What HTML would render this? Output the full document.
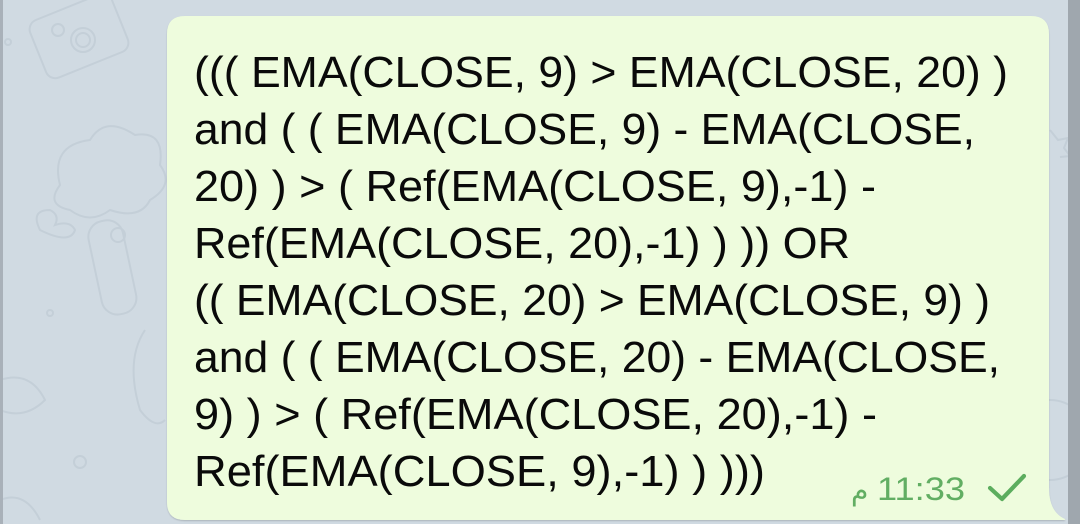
<!DOCTYPE html>
<html>
<head>
<meta charset="utf-8">
<style>
  html, body { margin: 0; padding: 0; }
  body { width: 1080px; height: 524px; overflow: hidden; background: #d0dae2; }
  svg { display: block; }
</style>
</head>
<body>
<svg width="1080" height="524" viewBox="0 0 1080 524" xmlns="http://www.w3.org/2000/svg">
  <defs>
    <filter id="sh" x="-5%" y="-5%" width="110%" height="110%">
      <feDropShadow dx="0" dy="1" stdDeviation="0.8" flood-color="#000" flood-opacity="0.18"/>
    </filter>
  </defs>
  <!-- background -->
  <rect x="0" y="0" width="1080" height="524" fill="#d0dae2"/>
  <!-- faint doodle pattern -->
  <g fill="none" stroke="#c4cfd8" stroke-width="2">
    <rect x="35" y="5" width="88" height="62" rx="10" transform="rotate(-22 79 36)"/>
    <circle cx="83" cy="40" r="12"/>
    <circle cx="83" cy="40" r="7"/>
    <circle cx="58" cy="30" r="6"/>
    <circle cx="8" cy="42" r="3"/>
    <path d="M60 185 q-10 -40 30 -45 q15 -25 45 -5 q30 -5 25 30 q15 20 -10 35 q-10 20 -40 10 q-20 15 -40 0 q-25 -5 -10 -25z"/>
    <rect x="95" y="220" width="35" height="95" rx="16" transform="rotate(-12 112 268)"/>
    <circle cx="118" cy="235" r="7"/>
    <path d="M40 230 q-10 -20 10 -20 q10 5 5 15 q15 -5 20 5 q-5 15 -35 0z"/>
    <circle cx="50" cy="313" r="3"/>
    <path d="M0 380 q30 -10 45 20 q-20 20 -45 10"/>
    <path d="M145 330 q-20 30 -5 80 q15 20 25 10"/>
    <circle cx="80" cy="462" r="6"/>
    <path d="M0 500 q25 -10 40 20"/>
    <path d="M1050 130 l8 10 l10 -2 l-4 10 l6 8 l-10 1"/>
    <circle cx="1050" cy="440" r="40"/>
  </g>
  <!-- left edge strip -->
  <rect x="0" y="0" width="3" height="524" fill="#a9b1b9"/>
  <!-- right edge strip -->
  <rect x="1068" y="0" width="12" height="524" fill="#9fa7ae"/>
  <!-- bubble -->
  <path filter="url(#sh)" fill="#eefcdd"
        d="M185 16 H1031 Q1049 16 1049 34 V488 Q1049 512 1065 519 Q1066 520 1063 520 H185 Q167 520 167 502 V34 Q167 16 185 16 Z"/>
  <!-- message text -->
  <g font-family="'Liberation Sans', Arial, sans-serif" font-size="44" fill="#0a0a0a">
    <text x="194" y="87" textLength="814" lengthAdjust="spacingAndGlyphs">((( EMA(CLOSE, 9) &gt; EMA(CLOSE, 20) )</text>
    <text x="194" y="144" textLength="781" lengthAdjust="spacingAndGlyphs">and ( ( EMA(CLOSE, 9) - EMA(CLOSE,</text>
    <text x="194" y="201" textLength="682" lengthAdjust="spacingAndGlyphs">20) ) &gt; ( Ref(EMA(CLOSE, 9),-1) -</text>
    <text x="194" y="258" textLength="656" lengthAdjust="spacingAndGlyphs">Ref(EMA(CLOSE, 20),-1) ) )) OR</text>
    <text x="194" y="315" textLength="796" lengthAdjust="spacingAndGlyphs">(( EMA(CLOSE, 20) &gt; EMA(CLOSE, 9) )</text>
    <text x="194" y="372" textLength="806" lengthAdjust="spacingAndGlyphs">and ( ( EMA(CLOSE, 20) - EMA(CLOSE,</text>
    <text x="194" y="429" textLength="683" lengthAdjust="spacingAndGlyphs">9) ) &gt; ( Ref(EMA(CLOSE, 20),-1) -</text>
    <text x="194" y="486" textLength="571" lengthAdjust="spacingAndGlyphs">Ref(EMA(CLOSE, 9),-1) ) )))</text>
  </g>
  <!-- time -->
  <text x="851" y="500" font-family="'DejaVu Sans', sans-serif" font-size="28" fill="#62ae63">م</text>
  <text x="877" y="500" font-family="'Liberation Sans', Arial, sans-serif" font-size="32" fill="#62ae63" textLength="88" lengthAdjust="spacingAndGlyphs">11:33</text>
  <!-- check mark -->
  <polyline points="990,488 1002,499 1024,476" fill="none" stroke="#5cad5e" stroke-width="4.2" stroke-linecap="round" stroke-linejoin="round"/>
</svg>
</body>
</html>
